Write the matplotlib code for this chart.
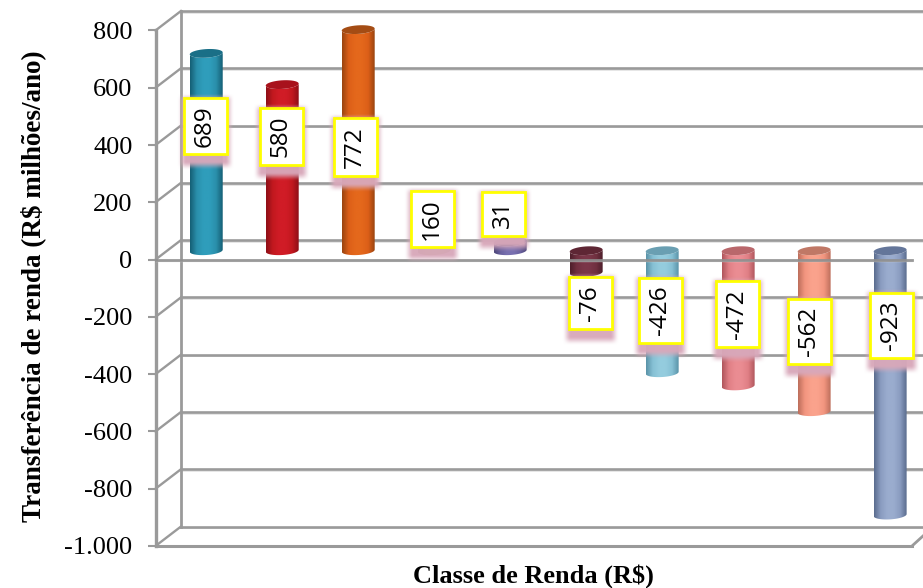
import matplotlib
matplotlib.use('Agg')
import matplotlib.pyplot as plt
import numpy as np
from matplotlib.colors import LinearSegmentedColormap
from matplotlib.patches import PathPatch, Polygon, Rectangle
from matplotlib.path import Path
from matplotlib.transforms import Affine2D

# values
values = [689, 580, 772, 160, 31, -76, -426, -472, -562, -923]
y_ticks = [800, 600, 400, 200, 0, -200, -400, -600, -800, -1000]
y_tick_labels = ['800', '600', '400', '200', '0', '-200', '-400', '-600', '-800', '-1.000']

# dark edge, mid, highlight, cap colour
bar_colors = [
    ('#155F75', '#2A8FAB', '#2F9DBB', '#1A6F87'),
    ('#8E0F17', '#C2181F', '#D01C26', '#A8121C'),
    ('#9A4510', '#DC5F18', '#E4681C', '#A44C14'),
    ('#6B8030', '#8FAA40', '#9DBA48', '#6F8530'),
    ('#4A4478', '#6A62A0', '#7870B0', '#504A80'),
    ('#4E1F2B', '#703040', '#7A3648', '#5E2634'),
    ('#5A93A8', '#86C0D4', '#94CCDE', '#6A9FB2'),
    ('#B0575D', '#E07F85', '#EA8C92', '#B9676B'),
    ('#BD6F5C', '#F2957F', '#FAA28C', '#C07866'),
    ('#5A6C8E', '#8A9CC0', '#9AACCE', '#64769A'),
]

# label boxes in image pixels: centre x, top, bottom
box_cx = [205, 281, 355, 432, 503, 590, 660, 737, 809, 891]
box_top = [98, 108, 118, 191, 192, 277, 278, 281, 299, 293]
box_bot = [154, 165, 176, 247, 236, 329, 343, 347, 364, 358]
box_w = 43

DEPTH_X = 0.335
DEPTH_Y = 68
BASE = 31
BAR_HALF = 0.217
CAP_B = 15
CAP_K = 16

W, H = 923, 588
fig = plt.figure(figsize=(W / 100, H / 100), dpi=100)
ax = fig.add_axes([155.5 / W, (H - 546) / H, (W - 155.5) / W, 535 / H])
px = Affine2D().scale(1, -1).translate(0, H)
xlim = (-0.5, 9.6)
ylim = (-1000, 800 + DEPTH_Y)
GREY = '#9A9A9A'
LIGHT = '#E2E2E2'

for s in ax.spines.values():
    s.set_visible(False)

# back wall and floor lines
for t in y_ticks:
    ax.plot([-0.5 + DEPTH_X, xlim[1]], [t + DEPTH_Y - 6, t + DEPTH_Y - 6], color=LIGHT, lw=1.2, zorder=1, clip_on=False)
    ax.plot([-0.5 + DEPTH_X, xlim[1]], [t + DEPTH_Y, t + DEPTH_Y], color=GREY, lw=1.9, zorder=1.1, clip_on=False)
    ax.plot([-0.5, -0.5 + DEPTH_X], [t, t + DEPTH_Y], color=GREY, lw=1.7, zorder=1.1, clip_on=False)
ax.plot([-0.5 + DEPTH_X] * 2, [-1000 + DEPTH_Y, 800 + DEPTH_Y], color=GREY, lw=2, zorder=1.2, clip_on=False)
ax.plot([-0.5, -0.5], [-1000, 800], color=GREY, lw=2.4, zorder=1.2, clip_on=False)
right_front = 9.455
ax.plot([-0.5, right_front], [-1000, -1000], color=GREY, lw=2.2, zorder=1.2, clip_on=False)
ax.plot([right_front, xlim[1]], [-1000, -1000 + 35], color=GREY, lw=2, zorder=1.2, clip_on=False)


def arc(xc, yc, t0, t1):
    t = np.linspace(t0, t1, 40)
    x = BAR_HALF * np.cos(t)
    return xc + x, yc + CAP_B * np.sin(t) + CAP_K * x


# cylinders
for i, v in enumerate(values):
    dark, mid, light, cap = bar_colors[i]
    xc = i + DEPTH_X / 2 + 0.0
    top = max(BASE, BASE + v)
    bot = min(BASE, BASE + v)
    xb, yb = arc(xc, bot, np.pi, 2 * np.pi)
    xt, yt = arc(xc, top, 2 * np.pi, np.pi)
    verts = np.column_stack([np.r_[xb, xt, xb[0]], np.r_[yb, yt, yb[0]]])
    clip = PathPatch(Path(verts, closed=False), facecolor='none', edgecolor='none', transform=ax.transData)
    ax.add_patch(clip)
    cmap = LinearSegmentedColormap.from_list('c', [dark, mid, light, light, mid, dark])
    im = ax.imshow(np.linspace(0, 1, 64)[None, :], cmap=cmap, aspect='auto', interpolation='bilinear',
                   extent=(xc - BAR_HALF, xc + BAR_HALF, bot - 40, top + 40), zorder=2)
    im.set_clip_path(clip)
    cx, cy = arc(xc, top, 0, 2 * np.pi)
    ax.add_patch(Polygon(np.column_stack([cx, cy]), closed=True, facecolor=cap, edgecolor='none', zorder=2.1))

# front zero line runs over the bars
ax.plot([-0.5, right_front], [0, 0], color='#8F8F8F', lw=2, alpha=0.9, zorder=3, clip_on=False)
ax.plot([-0.5, right_front], [-6, -6], color=LIGHT, lw=1, alpha=0.6, zorder=2.9, clip_on=False)


def ramp(a):
    a = np.clip(a, 0, 1)
    return a * a * (3 - 2 * a)


# label boxes with the pink glow below them
for i, v in enumerate(values):
    x0, x1 = box_cx[i] - box_w / 2, box_cx[i] + box_w / 2
    y0, y1 = box_top[i], box_bot[i]
    gx = np.arange(x0 - 10, x1 + 10, 0.5)
    gy = np.arange(y0 - 6, y1 + 20, 0.5)
    ax_a = ramp((gx - (x0 - 7)) / 9) * ramp(((x1 + 7) - gx) / 9)
    ay_a = ramp((gy - (y0 - 4)) / 8) * ramp(((y1 + 17) - gy) / 9)
    rgba = np.zeros((len(gy), len(gx), 4))
    rgba[..., :3] = (0.85, 0.66, 0.73)
    rgba[..., 3] = 0.97 * np.outer(ay_a, ax_a)
    glow = ax.imshow(rgba, aspect='auto', interpolation='bilinear', origin='upper',
                     extent=(gx[0], gx[-1], gy[-1], gy[0]), zorder=4)
    glow.set_transform(px)
    glow.set_clip_on(False)
    ax.add_patch(Rectangle((x0, y0), box_w, y1 - y0, facecolor='white', edgecolor='#FFFF00', lw=2,
                           transform=px, zorder=5, clip_on=False))
    ax.text(box_cx[i], (y0 + y1) / 2, str(v), rotation=90, ha='center', va='center', color='black',
            family='Open Sans', fontsize=17.5, transform=px, zorder=6)

ax.set_xlim(xlim)
ax.set_ylim(ylim)
ax.set_xticks([])
ax.set_yticks(y_ticks)
ax.set_yticklabels(y_tick_labels, family='Liberation Serif', fontsize=19, color='black')
ax.tick_params(axis='y', length=5.5, width=1.5, color=GREY, pad=11)
ax.set_xlabel('Classe de Renda (R$)', family='Liberation Serif', fontsize=19, fontweight='bold', va='center')
ax.xaxis.set_label_coords(0.492, -0.057)
ax.set_ylabel('Transferência de renda (R$ milhões/ano)', family='Liberation Serif', fontsize=19.5, fontweight='bold', va='center')
ax.yaxis.set_label_coords(-0.16, 0.486)

fig.savefig('out.png', dpi=100)
plt.close()
